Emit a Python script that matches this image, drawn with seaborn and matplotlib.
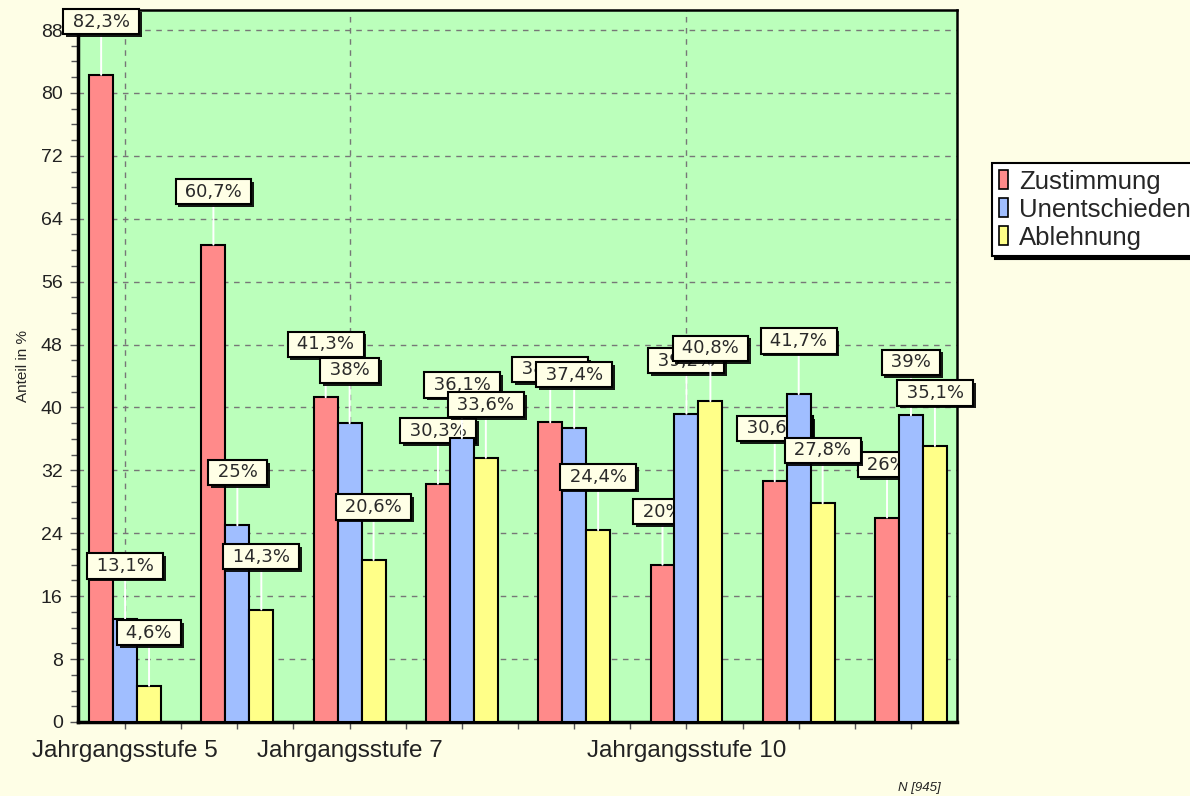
import numpy as np
import pandas as pd
import matplotlib
matplotlib.use('Agg')
import matplotlib.pyplot as plt
import matplotlib.patheffects as pe
from matplotlib.ticker import MultipleLocator, FixedLocator
import seaborn as sns

# Daten
stufen = ['Jahrgangsstufe 5', 'Jahrgangsstufe 6', 'Jahrgangsstufe 7', 'Jahrgangsstufe 8',
          'Jahrgangsstufe 9', 'Jahrgangsstufe 10', 'Jahrgangsstufe 11', 'Jahrgangsstufe 12']
antworten = ['Zustimmung', 'Unentschieden', 'Ablehnung']
zustimmung = [82.3, 60.7, 41.3, 30.3, 38.1, 20, 30.6, 26]
unentschieden = [13.1, 25, 38, 36.1, 37.4, 39.2, 41.7, 39]
ablehnung = [4.6, 14.3, 20.6, 33.6, 24.4, 40.8, 27.8, 35.1]
sichtbar = ['Jahrgangsstufe 5', 'Jahrgangsstufe 7', 'Jahrgangsstufe 10']
farben = ['#FF8A8A', '#A0BEFF', '#FFFF88']

df = pd.DataFrame({
    'Stufe': stufen * 3,
    'Antwort': np.repeat(antworten, len(stufen)),
    'Wert': zustimmung + unentschieden + ablehnung,
})

sns.set_style('white')
plt.rcParams['font.family'] = ['Liberation Sans', 'DejaVu Sans']

fig = plt.figure(figsize=(11.9, 7.96), dpi=100, facecolor='#FEFEE6')
ax = fig.add_axes([0.0655, 0.093, 0.7387, 0.894])
ax.set_facecolor('#BBFFBB')

sns.barplot(data=df, x='Stufe', y='Wert', hue='Antwort', order=stufen, hue_order=antworten,
            palette=farben, width=0.64, edgecolor='black', linewidth=1.5,
            saturation=1, legend=False, ax=ax)

# Beschriftungen pro Serie (spaetere Serie liegt oben)
for i, cont in enumerate(ax.containers):
    for bar in cont:
        bar.set_zorder(3 + 2 * i)
        v = bar.get_height()
        x = bar.get_x() + bar.get_width() / 2
        txt = ' ' + f'{v:g}'.replace('.', ',') + '% '
        ann = ax.annotate(txt, xy=(x, v), xytext=(0, 53), textcoords='offset pixels',
                          ha='center', va='center', fontsize=13, color='#2a2a2a',
                          family='DejaVu Sans', zorder=4 + 2 * i,
                          bbox=dict(boxstyle='square,pad=0.2', fc='#FFFFE6', ec='black', lw=1.5),
                          arrowprops=dict(arrowstyle='-', color='white', lw=1.4, shrinkA=0, shrinkB=0))
        ann.get_bbox_patch().set_path_effects([
            pe.SimplePatchShadow(offset=(2, -2), shadow_rgbFace='black', alpha=0.9), pe.Normal()])

ax.set_xlim(-0.42, 7.41)
ax.set_ylim(0, 90.5)
ax.yaxis.set_major_locator(MultipleLocator(8))
ax.yaxis.set_minor_locator(MultipleLocator(2))

pos = [stufen.index(s) for s in sichtbar]
ax.xaxis.set_major_locator(FixedLocator(pos))
ax.set_xticklabels(sichtbar)
minor = [p / 2 for p in range(0, 15) if p / 2 not in pos]
ax.xaxis.set_minor_locator(FixedLocator(minor))

ax.tick_params(axis='x', which='major', length=5, width=1, color='#555555', labelsize=17.5,
               pad=8, labelcolor='#222222')
ax.tick_params(axis='x', which='minor', length=5, width=1, color='#555555')
ax.tick_params(axis='y', which='major', length=6, width=1, color='#555555', labelsize=14,
               pad=5, labelcolor='#222222')
ax.tick_params(axis='y', which='minor', length=5, width=1, color='#555555')
ax.tick_params(bottom=True, left=True, which='both')

ax.grid(True, which='major', axis='both', color='#777777', linestyle=(0, (4, 4)), lw=1)
ax.set_axisbelow(True)

ax.set_xlabel('')
ax.set_ylabel('Anteil in %', fontsize=11, labelpad=8)
for s in ['left', 'bottom']:
    ax.spines[s].set_linewidth(2.5)
for s in ['top', 'right']:
    ax.spines[s].set_linewidth(1.8)
for s in ax.spines.values():
    s.set_color('black')

handles = [plt.Rectangle((0, 0), 1, 1, fc=c, ec='black', lw=1.2) for c in farben]
leg = ax.legend(handles, antworten, loc='upper left', bbox_to_anchor=(0.834, 0.795),
                bbox_transform=fig.transFigure, fontsize=18.5, frameon=True, fancybox=False,
                edgecolor='black', facecolor='white', framealpha=1,
                handlelength=0.35, handleheight=0.75, handletextpad=0.45, labelspacing=0.16,
                borderpad=0.25, borderaxespad=0, shadow={'color': 'black', 'alpha': 1})
leg.get_frame().set_linewidth(1.5)

fig.text(0.755, 0.006, 'N [945]', fontsize=9.5, style='italic', color='#222222')

fig.savefig('out.png', dpi=100, facecolor=fig.get_facecolor())
